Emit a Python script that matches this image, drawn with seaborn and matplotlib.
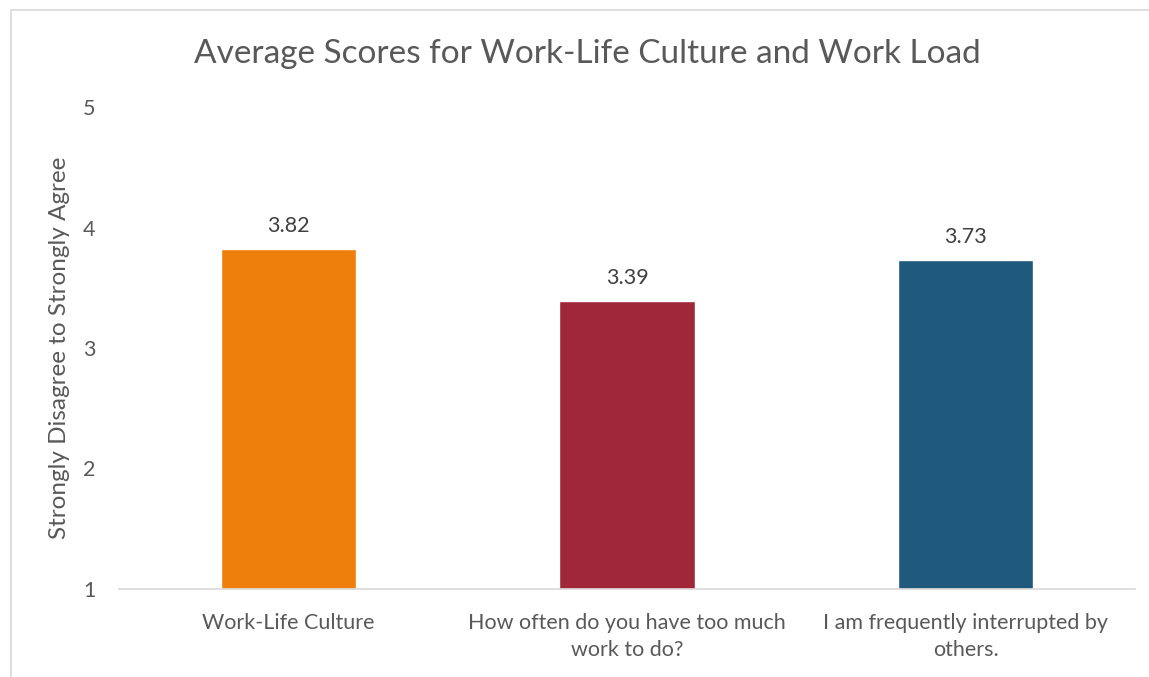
import pandas as pd
import seaborn as sns
import matplotlib.pyplot as plt
from matplotlib.patches import Rectangle

categories = ["Work-Life Culture",
              "How often do you have too much\nwork to do?",
              "I am frequently interrupted by\nothers."]
scores = [3.82, 3.39, 3.73]
bar_colors = ["#EF7F0C", "#A02739", "#1F5A7D"]

df = pd.DataFrame({"item": categories, "score": scores})

sns.set_theme(style="white")
plt.rcParams['font.family'] = ['Lato', 'DejaVu Sans']

fig = plt.figure(figsize=(11.49, 6.77), dpi=100)
ax = fig.add_axes([119 / 1149, 1 - 589 / 677, (1135 - 119) / 1149, (589 - 107) / 677])

sns.barplot(data=df, x="item", y="score", hue="item", palette=bar_colors,
            width=0.4, legend=False, ax=ax, saturation=1)

# bars start at the axis floor (1)
for p, v in zip(ax.patches, scores):
    p.set_y(1)
    p.set_height(v - 1)
    ax.text(p.get_x() + p.get_width() / 2, v + 0.11, f"{v:.2f}",
            ha="center", va="bottom", fontsize=15.5, color="#404040")

ax.set_ylim(1, 5)
ax.set_yticks([1, 2, 3, 4, 5])
ax.set_xlim(-0.5, 2.5)
ax.set_xlabel("")
ax.set_ylabel("Strongly Disagree to Strongly Agree", fontsize=17.5, color="#595959", labelpad=9)
ax.tick_params(axis="both", length=0, labelsize=15.5, labelcolor="#595959")
ax.tick_params(axis="y", pad=17)
ax.tick_params(axis="x", pad=17)
for lbl in ax.get_xticklabels():
    lbl.set_linespacing(1.45)
for s in ["top", "right", "left"]:
    ax.spines[s].set_visible(False)
ax.spines["bottom"].set_color("#D9D9D9")
ax.spines["bottom"].set_linewidth(1.2)

fig.text(587 / 1149, 1 - 54 / 677, "Average Scores for Work-Life Culture and Work Load",
         ha="center", va="center", fontsize=24, color="#595959")

# chart border
fig.patches.append(Rectangle((10.5 / 1149, -0.1), 1.2, 1 - 9.5 / 677 + 0.1,
                             transform=fig.transFigure, fill=False,
                             edgecolor="#D9D9D9", linewidth=1.2))

plt.savefig("out.png", dpi=100)
